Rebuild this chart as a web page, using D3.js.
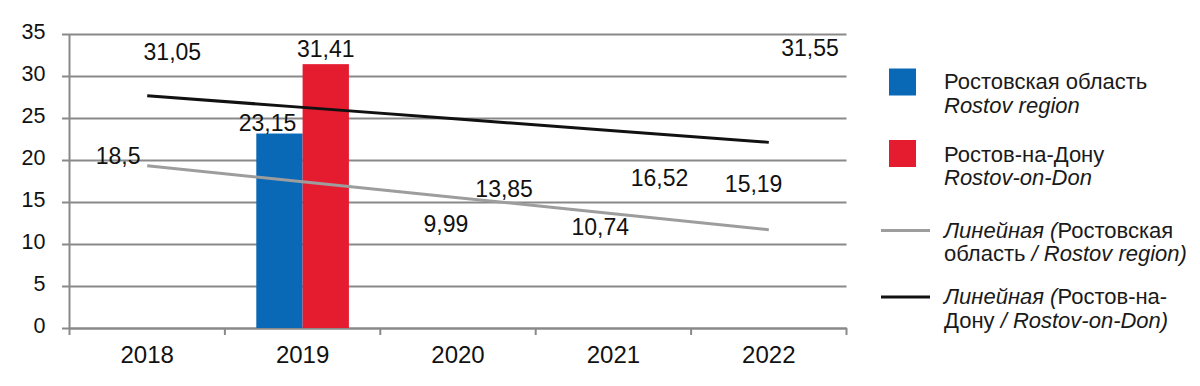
<!DOCTYPE html>
<html>
<head>
<meta charset="utf-8">
<script src="https://cdn.jsdelivr.net/npm/d3@7"></script>
<style>
    body { margin: 0; background: #fff; }
    svg { font-family: "Liberation Sans", Arial, sans-serif; }
</style>
</head>
<body>
<div id="chart"></div>
<script>
//
// Rostov region / Rostov-on-Don column chart with linear trend lines
//

var years = ['2018', '2019', '2020', '2021', '2022'];
var regionValues = [18.5, 23.15, 9.99, 10.74, 15.19];   // Ростовская область
var cityValues = [31.05, 31.41, 13.85, 16.52, 31.55];   // Ростов-на-Дону
var yTicks = [0, 5, 10, 15, 20, 25, 30, 35];
var barYears = ['2019'];    // only these columns are visible in the source picture

// label nudges (px) from the top centre of each column, like the manual moves in the original
var regionLabelDx = [-6, -12, 11, 10, 8];
var regionLabelDy = [-9, -3, -12, -3, -8];
var cityLabelDx = [2, 0, 23, 23, 18];
var cityLabelDy = [-7, -7, -15, -3, -7];

var blue = '#0a69b7';
var red = '#e51c30';
var gridColor = '#898989';

function fmt(v) {
    return String(v).replace('.', ',');
}

// least squares line, same as the Excel "linear" trendline
function trend(values) {
    var n = values.length;
    var mx = (n + 1) / 2;
    var my = d3.mean(values);
    var num = 0, den = 0;
    for (i = 0; i < n; i++) {
        num += (i + 1 - mx) * (values[i] - my);
        den += (i + 1 - mx) * (i + 1 - mx);
    }
    var slope = num / den;
    return values.map(function (d, i) { return my + slope * (i + 1 - mx); });
}

function drawChart() {
    var width = 1200;
    var height = 386;
    var plotLeft = 69.5;
    var plotRight = 846.5;
    var plotTop = 34;
    var plotBottom = 328;

    var svg = d3.select('#chart')
        .append('svg')
        .attr('width', width)
        .attr('height', height);

    var y = d3.scaleLinear().domain([0, 35]).range([plotBottom, plotTop]);
    var xCat = d3.scaleBand().domain(years).range([plotLeft, plotRight]);
    var x0 = d3.scaleBand().domain(years).range([plotLeft, plotRight]).paddingInner(0.404).paddingOuter(0.202);
    var x1 = d3.scaleBand().domain(['region', 'city']).range([0, x0.bandwidth()]);

    // gridlines + y ticks
    var yAxis = d3.axisLeft(y).tickValues(yTicks).tickSize(-(plotRight - plotLeft)).tickPadding(24).tickFormat(d3.format('d'));
    var gy = svg.append('g')
        .attr('class', 'y axis')
        .attr('transform', 'translate(' + plotLeft + ',0)')
        .call(yAxis);
    gy.select('.domain').remove();
    gy.selectAll('.tick line').attr('stroke', gridColor).attr('stroke-width', 2).attr('x1', -7.5);
    gy.selectAll('.tick text').attr('font-size', '21.5px').attr('fill', '#111').attr('dy', '0.22em');

    // y axis line
    svg.append('line')
        .attr('x1', plotLeft).attr('x2', plotLeft)
        .attr('y1', y(35)).attr('y2', y(0))
        .attr('stroke', gridColor).attr('stroke-width', 2);

    // x axis: ticks at category boundaries, labels at centres
    var bounds = years.map(function (d) { return xCat(d); }).concat([plotRight]);
    svg.append('g')
        .selectAll('line')
        .data(bounds)
        .enter()
        .append('line')
        .attr('x1', function (d) { return d; })
        .attr('x2', function (d) { return d; })
        .attr('y1', y(0))
        .attr('y2', y(0) + 7)
        .attr('stroke', gridColor)
        .attr('stroke-width', 2);

    var xAxis = d3.axisBottom(xCat).tickSize(0).tickPadding(18);
    var gx = svg.append('g')
        .attr('class', 'x axis')
        .attr('transform', 'translate(0,' + y(0) + ')')
        .call(xAxis);
    gx.select('.domain').attr('stroke', gridColor).attr('stroke-width', 2);
    gx.selectAll('.tick text').attr('font-size', '24px').attr('fill', '#111');

    // bars
    var barData = [];
    for (i = 0; i < years.length; i++) {
        if (barYears.indexOf(years[i]) < 0)
            continue;
        barData.push({ X: years[i], key: 'region', v: regionValues[i], color: blue });
        barData.push({ X: years[i], key: 'city', v: cityValues[i], color: red });
    }
    svg.append('g')
        .selectAll('rect')
        .data(barData)
        .enter()
        .append('rect')
        .attr('x', function (d) { return x0(d.X) + x1(d.key); })
        .attr('y', function (d) { return y(d.v); })
        .attr('width', x1.bandwidth())
        .attr('height', function (d) { return y(0) - y(d.v); })
        .attr('fill', function (d) { return d.color; });

    // trend lines
    var line = d3.line()
        .x(function (d, i) { return xCat(years[i]) + xCat.bandwidth() / 2; })
        .y(function (d) { return y(d); });
    svg.append('path')
        .attr('d', line(trend(regionValues)))
        .attr('fill', 'none').attr('stroke', '#9d9d9d').attr('stroke-width', 3);
    svg.append('path')
        .attr('d', line(trend(cityValues)))
        .attr('fill', 'none').attr('stroke', '#111').attr('stroke-width', 3);

    // data labels
    var labels = [];
    for (i = 0; i < years.length; i++) {
        labels.push({ X: years[i], key: 'region', v: regionValues[i], dx: regionLabelDx[i], dy: regionLabelDy[i] });
        labels.push({ X: years[i], key: 'city', v: cityValues[i], dx: cityLabelDx[i], dy: cityLabelDy[i] });
    }
    svg.append('g')
        .selectAll('text')
        .data(labels)
        .enter()
        .append('text')
        .attr('x', function (d) { return x0(d.X) + x1(d.key) + x1.bandwidth() / 2 + d.dx; })
        .attr('y', function (d) { return y(d.v) + d.dy; })
        .attr('text-anchor', 'middle')
        .attr('font-size', '23px')
        .attr('fill', '#111')
        .text(function (d) { return fmt(d.v); });

    // legend
    var legend = svg.append('g').attr('class', 'legend').attr('font-size', '22px').attr('fill', '#1a1a1a');
    var legendItems = [
        { type: 'rect', color: blue, top: 82, lines: [[['Ростовская область', false]], [['Rostov region', true]]], base: 89 },
        { type: 'rect', color: red, top: 153.5, lines: [[['Ростов-на-Дону', false]], [['Rostov-on-Don', true]]], base: 161.5 },
        { type: 'line', color: '#9d9d9d', top: 230.5, lines: [[['Линейная (', true], ['Ростовская', false]], [['область ', false], ['/ Rostov region)', true]]], base: 237.5 },
        { type: 'line', color: '#111', top: 297, lines: [[['Линейная (', true], ['Ростов-на-', false]], [['Дону ', false], ['/ Rostov-on-Don)', true]]], base: 304 }
    ];
    legendItems.forEach(function (item) {
        if (item.type == 'rect') {
            legend.append('rect')
                .attr('x', 889).attr('y', item.top - 13.5)
                .attr('width', 27).attr('height', 27)
                .attr('fill', item.color);
        }
        else {
            legend.append('line')
                .attr('x1', 881).attr('x2', 930)
                .attr('y1', item.top).attr('y2', item.top)
                .attr('stroke', item.color).attr('stroke-width', 3);
        }
        var t = legend.append('text').attr('x', 944).attr('y', item.base);
        item.lines.forEach(function (parts, li) {
            parts.forEach(function (p, pi) {
                var ts = t.append('tspan').text(p[0]).attr('font-style', p[1] ? 'italic' : 'normal');
                if (pi == 0)
                    ts.attr('x', 944).attr('dy', li == 0 ? 0 : '1.08em');
            });
        });
    });

    return svg;
}

drawChart();
</script>
</body>
</html>
